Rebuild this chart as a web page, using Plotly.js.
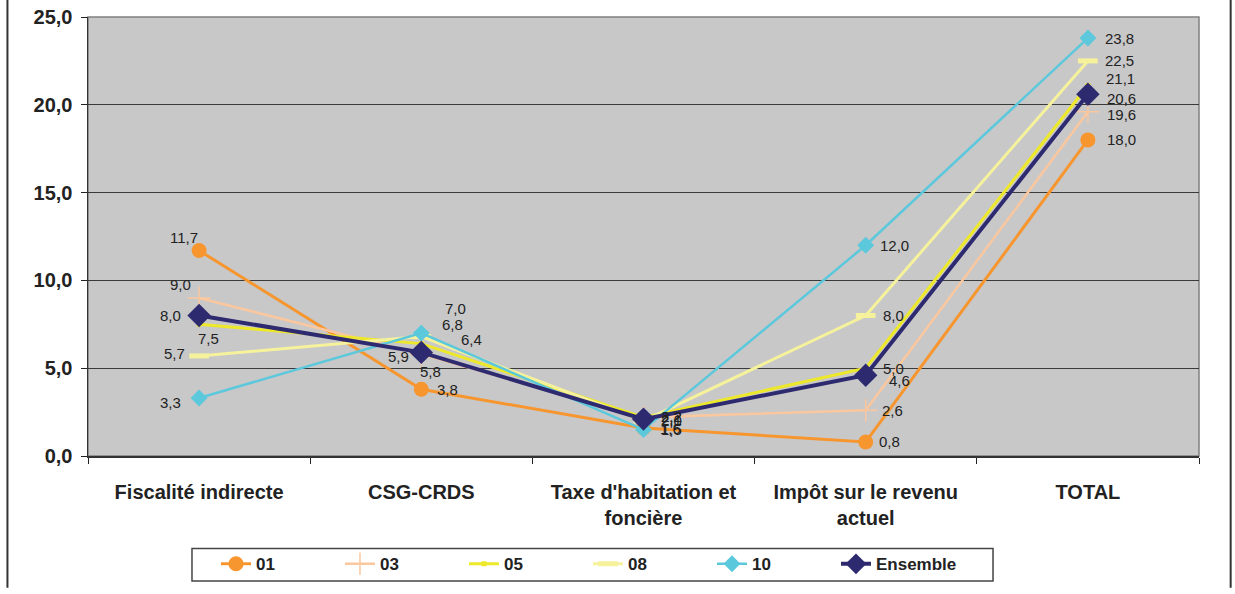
<!DOCTYPE html>
<html>
<head>
<meta charset="utf-8">
<script src="https://cdn.plot.ly/plotly-3.0.1.min.js"></script>
<style>
html,body{margin:0;padding:0;background:#fff;}
#chart{width:1235px;height:594px;}
</style>
</head>
<body>
<div id="chart"></div>
<script>
const categories = ["Fiscalité indirecte", "CSG-CRDS", "Taxe d'habitation et<br>foncière", "Impôt sur le revenu<br>actuel", "TOTAL"];
const seriesNames = ["01", "03", "05", "08", "10", "Ensemble"];
const s01 = [11.7, 3.8, 1.6, 0.8, 18.0];
const s03 = [9.0, 5.8, 2.2, 2.6, 19.6];
const s05 = [7.5, 6.4, 2.2, 5.0, 21.1];
const s08 = [5.7, 6.8, 2.0, 8.0, 22.5];
const s10 = [3.3, 7.0, 1.5, 12.0, 23.8];
const sEns = [8.0, 5.9, 2.1, 4.6, 20.6];
const yTicks = [0, 5, 10, 15, 20, 25];

const FONT = "Liberation Sans, Arial, sans-serif";
const fmt = v => v.toFixed(1).replace('.', ',');

// label placement relative to each marker: [anchor, dx px, dy px (down positive)]
const labelOffsets = [
  [['center',-15,-13],['left',14,0],['left',14,1],['left',11,0],['left',17,0]],
  [['center',-19,-13],['center',9,17],['left',15,-1],['left',14,0],['left',17,3]],
  [['center',9,14],['left',38,-4],['left',15,-1],['left',15,0],['left',16,-7]],
  [['right',-12,-2],['left',19,-12],['left',15,0],['left',15,0],['left',15,0]],
  [['right',-16,4],['left',22,-25],['left',15,0],['left',12,0],['left',15,0]],
  [['right',-16,0],['right',-10,4],['left',15,0],['left',21,5],['left',17,4]]
];

function tr(name, y, color, lw, sym, msize, mline) {
  return {
    type: 'scatter', mode: 'lines+markers', name: name,
    x: categories, y: y,
    line: {color: color, width: lw},
    marker: {symbol: sym, size: msize, color: color, line: {color: color, width: mline}},
    cliponaxis: false, hoverinfo: 'x+y'
  };
}

const seriesValues = [s01, s03, s05, s08, s10, sEns];
const data = [
  tr(seriesNames[0], s01, '#F7962F', 3, 'circle', 15, 0),
  tr(seriesNames[1], s03, '#FBC79E', 2.5, 'cross-thin', 16, 1.5),
  tr(seriesNames[2], s05, '#EDE82A', 3, 'square', 5, 0),
  tr(seriesNames[3], s08, '#F6F29C', 3, 'line-ew', 14, 5),
  tr(seriesNames[4], s10, '#5CC8DC', 2.5, 'diamond', 13, 0),
  tr(seriesNames[5], sEns, '#2E2A70', 4, 'diamond', 18, 0)
];

const annotations = [];
seriesValues.forEach((vals, si) => {
  vals.forEach((v, i) => {
    const o = labelOffsets[si][i];
    annotations.push({
      x: categories[i], y: v, xref: 'x', yref: 'y',
      text: fmt(v), showarrow: false,
      xanchor: o[0], yanchor: 'middle', xshift: o[1], yshift: -o[2],
      font: {family: FONT, size: 15, color: '#222'}
    });
  });
});

const layout = {
  width: 1235, height: 594,
  margin: {l: 88, r: 36, t: 17, b: 131},
  paper_bgcolor: '#ffffff', plot_bgcolor: '#C8C8C9',
  separators: ', ',
  showlegend: true,
  font: {family: FONT, color: '#222'},
  xaxis: {
    type: 'category', tickson: 'boundaries', ticks: 'outside', ticklen: 6, tickcolor: '#222',
    showgrid: false, showline: true, linecolor: '#333', linewidth: 1.5,
    tickfont: {family: FONT, size: 20, color: '#222', weight: 'bold'},
    ticklabelstandoff: 17, range: [-0.5, 4.5], fixedrange: true
  },
  yaxis: {
    range: [0, 25], tickvals: yTicks, ticktext: yTicks.map(fmt),
    ticks: 'outside', ticklen: 6, tickcolor: '#222',
    showgrid: true, gridcolor: '#3a3a3a', gridwidth: 1,
    showline: true, linecolor: '#333', linewidth: 1.5, zeroline: false,
    tickfont: {family: FONT, size: 20, color: '#222', weight: 'bold'},
    ticklabelstandoff: 4, fixedrange: true
  },
  legend: {
    orientation: 'h', x: 0.1152, xanchor: 'left', y: -0.2466, yanchor: 'middle',
    borderwidth: 0, bgcolor: 'rgba(0,0,0,0)',
    font: {family: FONT, size: 17, color: '#222', weight: 'bold'},
    entrywidth: 79, traceorder: 'normal'
  },
  annotations: annotations,
  shapes: [
    {type: 'rect', xref: 'paper', yref: 'paper', x0: 0, x1: 1, y0: 0, y1: 1, line: {color: '#808080', width: 1.5}, layer: 'below'},
    {type: 'rect', xref: 'paper', yref: 'paper', x0: 0.0936, x1: 0.8146, y0: -0.2848, y1: -0.2108, line: {color: '#444', width: 1.5}, fillcolor: '#fff', layer: 'below'},
    {type: 'line', xref: 'paper', yref: 'paper', x0: -0.0725, x1: -0.0725, y0: -0.30, y1: 1.04, line: {color: '#333', width: 2}},
    {type: 'line', xref: 'paper', yref: 'paper', x0: 1.0285, x1: 1.0285, y0: -0.30, y1: 1.04, line: {color: '#333', width: 2}}
  ]
};

Plotly.newPlot('chart', data, layout, {staticPlot: true, displayModeBar: false});
</script>
</body>
</html>
